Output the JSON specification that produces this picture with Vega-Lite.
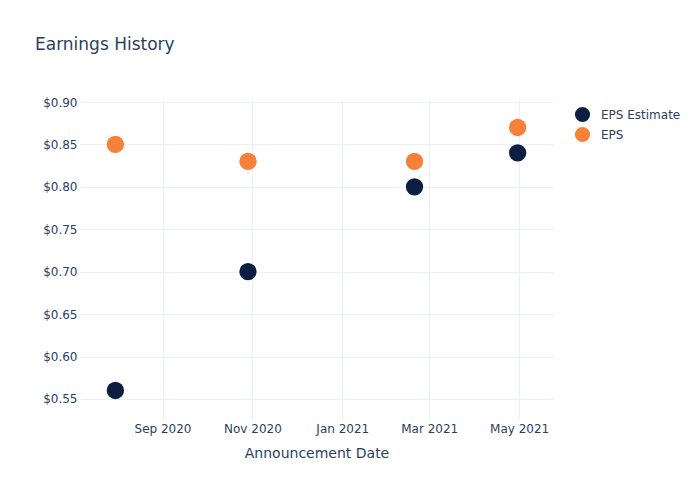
{
  "$schema": "https://vega.github.io/schema/vega-lite/v6.json",
  "width": 473,
  "height": 320,
  "autosize": {"type": "none"},
  "padding": {"left": 80, "top": 100, "right": 147, "bottom": 80},
  "background": "white",
  "config": {
    "font": "DejaVu Sans",
    "view": {"stroke": null},
    "axis": {"labelColor": "#2a3f5f", "titleColor": "#2a3f5f", "labelFontSize": 12, "gridColor": "#ebf0f8", "gridWidth": 1, "domain": false, "ticks": false}
  },
  "title": {
    "text": "Earnings History",
    "anchor": "start",
    "frame": "group",
    "dx": -45,
    "offset": 29,
    "fontSize": 17,
    "fontWeight": "normal",
    "color": "#2a3f5f",
    "baseline": "alphabetic"
  },
  "data": {
    "values": [
      {"date": "2020-07-31", "series": "EPS Estimate", "value": 0.56},
      {"date": "2020-10-29", "series": "EPS Estimate", "value": 0.70},
      {"date": "2021-02-19", "series": "EPS Estimate", "value": 0.80},
      {"date": "2021-04-30", "series": "EPS Estimate", "value": 0.84},
      {"date": "2020-07-31", "series": "EPS", "value": 0.85},
      {"date": "2020-10-29", "series": "EPS", "value": 0.83},
      {"date": "2021-02-19", "series": "EPS", "value": 0.83},
      {"date": "2021-04-30", "series": "EPS", "value": 0.87}
    ]
  },
  "mark": {"type": "circle", "size": 300, "opacity": 1},
  "encoding": {
    "x": {
      "field": "date",
      "type": "temporal",
      "scale": {"type": "utc", "domain": [{"year": 2020, "month": 7, "date": 7, "utc": true}, {"year": 2021, "month": 5, "date": 24, "utc": true}], "nice": false},
      "axis": {
        "title": "Announcement Date",
        "titleFontSize": 14,
        "titleFontWeight": "normal",
        "titlePadding": 12,
        "labelPadding": 3,
        "labelExpr": "utcFormat(datum.value, '%b %Y')",
        "values": [
          {"year": 2020, "month": 9, "date": 1, "utc": true},
          {"year": 2020, "month": 11, "date": 1, "utc": true},
          {"year": 2021, "month": 1, "date": 1, "utc": true},
          {"year": 2021, "month": 3, "date": 1, "utc": true},
          {"year": 2021, "month": 5, "date": 1, "utc": true}
        ]
      }
    },
    "y": {
      "field": "value",
      "type": "quantitative",
      "scale": {"domain": [0.5252, 0.9024], "nice": false, "zero": false},
      "axis": {
        "title": null,
        "format": "$.2f",
        "labelPadding": 3,
        "values": [0.55, 0.6, 0.65, 0.7, 0.75, 0.8, 0.85, 0.9]
      }
    },
    "color": {
      "field": "series",
      "type": "nominal",
      "scale": {"domain": ["EPS Estimate", "EPS"], "range": ["#0c1f40", "#f7803a"]},
      "legend": {
        "title": null,
        "orient": "none",
        "legendX": 494,
        "legendY": 6,
        "symbolType": "circle",
        "symbolSize": 230,
        "symbolOpacity": 1,
        "labelFontSize": 12,
        "labelColor": "#2a3f5f",
        "rowPadding": 3,
        "labelOffset": 10
      }
    },
    "order": {"field": "series", "sort": "descending"}
  }
}
